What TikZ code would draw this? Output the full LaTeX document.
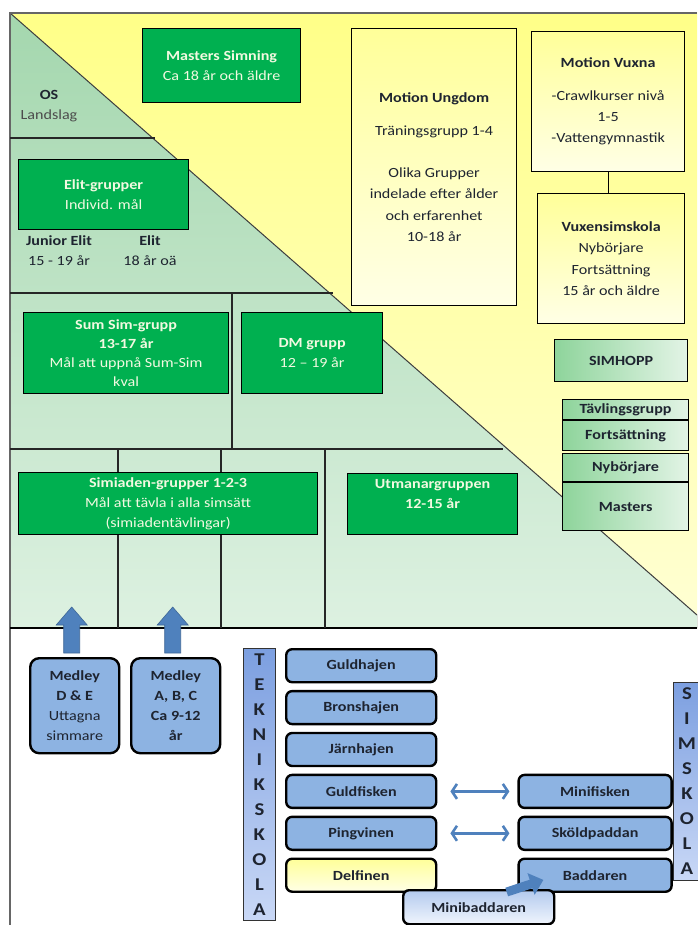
\documentclass[tikz,border=0pt]{standalone}
\usepackage{fontspec}
\setmainfont{Carlito}[FakeStretch=1.15]
\usetikzlibrary{positioning,calc,arrows.meta}

\definecolor{grpgreen}{HTML}{00B050}
\definecolor{grptext}{HTML}{F2F9E1}
\definecolor{trigreenA}{HTML}{A4D7AE}
\definecolor{trigreenB}{HTML}{DDF1E1}
\definecolor{bgyellowA}{HTML}{FFFF88}
\definecolor{bgyellowB}{HTML}{FFFFD4}
\definecolor{boxyellowA}{HTML}{FFFF99}
\definecolor{boxyellowB}{HTML}{FFFFE6}
\definecolor{hoppA}{HTML}{8ED49B}
\definecolor{hoppB}{HTML}{E3F4E6}
\definecolor{tekblue}{HTML}{8DB3E2}
\definecolor{tekbarA}{HTML}{7C9FE0}
\definecolor{tekbarB}{HTML}{C9D8F6}
\definecolor{minibadA}{HTML}{B3CAEE}
\definecolor{minibadB}{HTML}{F0F5FD}
\definecolor{arrowblue}{HTML}{4F81BD}
\definecolor{darktext}{HTML}{1E2430}

\newcommand\boxfont{\fontsize{14}{20}\selectfont}

\tikzset{
  divline/.style={line width=1.1pt, black!85},
  grpbox/.style={draw=black, line width=1.2pt, fill=grpgreen, text=grptext, align=center, inner sep=0pt, anchor=north west},
  motbox/.style={draw=black, line width=1.2pt, top color=boxyellowA, bottom color=boxyellowB, text=darktext, align=center, inner sep=0pt, anchor=north west, font=\fontsize{14}{21.5}\selectfont},
  hoppbox/.style={draw=black, line width=1.2pt, left color=hoppA, right color=hoppB, text=darktext, font=\boxfont\bfseries, inner sep=0pt, minimum width=126},
  medbox/.style={draw=black, line width=2.4pt, rounded corners=9pt, fill=tekblue, text=darktext, align=center, inner sep=0pt, anchor=north west, minimum width=89, minimum height=95},
  fiskbox/.style={draw=black, line width=2.4pt, rounded corners=6pt, fill=tekblue, text=darktext, font=\boxfont\bfseries, inner sep=0pt, minimum width=150, minimum height=33},
  letterbar/.style={draw=black!80, line width=0.8pt, top color=tekbarA, bottom color=tekbarB, text=darktext, align=center, inner sep=0pt, anchor=north west, font=\fontsize{18}{25}\selectfont\bfseries},
  blockarr/.style={fill=arrowblue, draw=arrowblue!80!black, line width=0.6pt},
  dblarrow/.style={arrowblue, line width=2.6pt, {Straight Barb[length=5pt,width=15pt]}-{Straight Barb[length=5pt,width=15pt]}, shorten <=13pt, shorten >=8pt}
}

\begin{document}
\begin{tikzpicture}[x=1pt, y=-1pt, font=\boxfont]
  \useasboundingbox (0,0) rectangle (697,925);
  \fill[white] (0,0) rectangle (697,925);

  % background: yellow area and green triangle
  \fill[top color=bgyellowA, bottom color=bgyellowB] (10,13) rectangle (697,628);
  \fill[top color=trigreenA, bottom color=trigreenB] (10,13) -- (697,615) -- (697,628) -- (10,628) -- cycle;
  \draw[line width=1pt, black!75] (10,13) -- (697,615);
  \draw[line width=1.5pt, black!60] (10,925) -- (10,13) -- (697,13);
  \draw[line width=1.2pt] (10,628) -- (697,628);

  % levels in the triangle
  \draw[divline] (10,138) -- (155,138);
  \draw[divline] (10,293) -- (333,293);
  \draw[divline] (10,449) -- (503,449);
  \draw[divline] (232,293) -- (232,448);
  \foreach \x in {118,221,325}
    \draw[divline] (\x,449) -- (\x,628);

  % green groups
  \node[grpbox, minimum width=158, minimum height=74] (masters) at (142,28)
    {\textbf{Masters Simning}\\Ca 18 år och äldre};
  \node[text=darktext, align=center] (os) at (49,106) {\textbf{OS}\\{\color{black!70}Landslag}};
  \node[grpbox, minimum width=170, minimum height=70] (elit) at (18,159)
    {\textbf{Elit-grupper}\\Individ. mål};
  \node[text=darktext, align=center] (junior) at (59,251) {\textbf{Junior Elit}\\15 - 19 år};
  \node[text=darktext, align=center] (elitage) at (150,251) {\textbf{Elit}\\18 år oä};
  \node[grpbox, minimum width=205, minimum height=81, font=\fontsize{14}{19}\selectfont] (sumsim) at (23,312)
    {\textbf{Sum Sim-grupp}\\\textbf{13-17 år}\\Mål att uppnå Sum-Sim\\kval};
  \node[grpbox, minimum width=141, minimum height=81] (dm) at (241,312)
    {\textbf{DM grupp}\\12 -- 19 år};
  \node[grpbox, minimum width=299, minimum height=62] (simiaden) at (18,472)
    {\textbf{Simiaden-grupper 1-2-3}\\Mål att tävla i alla simsätt\\(simiadentävlingar)};
  \node[grpbox, minimum width=170, minimum height=61] (utmanar) at (347,473)
    {\textbf{Utmanargruppen}\\\textbf{12-15 år}\\~};

  % motion
  \node[motbox, minimum width=165, minimum height=277] (ungdom) at (351,28)
    {\textbf{Motion Ungdom}\\[12pt]Träningsgrupp 1-4\\[20pt]Olika Grupper\\indelade efter ålder\\och erfarenhet\\10-18 år};
  \node[motbox, minimum width=153, minimum height=140, font=\fontsize{14}{21}\selectfont] (vuxna) at (531,31)
    {\textbf{Motion Vuxna}\\[12pt]-Crawlkurser nivå\\1-5\\-Vattengymnastik};
  \node[motbox, minimum width=147, minimum height=130] (vuxensim) at (537,193)
    {\textbf{Vuxensimskola}\\Nybörjare\\Fortsättning\\15 år och äldre};
  \draw[line width=1.2pt] (vuxna.south) -- (vuxna.south |- vuxensim.north);

  % simhopp
  \node[hoppbox, minimum width=133, minimum height=42, anchor=north west] (simhopp) at (554,339) {SIMHOPP};
  \node[hoppbox, minimum height=20, anchor=north west] (tavling) at (562,399) {Tävlingsgrupp};
  \node[hoppbox, minimum height=30, below=0pt of tavling] (fortsh) {Fortsättning};
  \node[hoppbox, minimum height=28, below=1.5pt of fortsh] (nybh) {Nybörjare};
  \node[hoppbox, minimum height=48, below=0pt of nybh] (mastersh) {Masters};

  % medley
  \node[medbox] (medDE) at (29,657)
    {\textbf{Medley}\\\textbf{D \& E}\\Uttagna\\simmare};
  \node[medbox, font=\boxfont\bfseries] (medABC) at (130,657)
    {Medley\\A, B, C\\Ca 9-12\\år};
  \draw[blockarr] ($(medDE.north)+(-11,-4)$) -- ++(0,-28) -- ++(-7.5,0) -- ++(15.5,-18) -- ++(15.5,18) -- ++(-7.5,0) -- ++(0,28) -- cycle;
  \draw[blockarr] ($(medABC.north)+(-11,-4)$) -- ++(0,-28) -- ++(-7.5,0) -- ++(15.5,-18) -- ++(15.5,18) -- ++(-7.5,0) -- ++(0,28) -- cycle;

  % teknikskola
  \node[letterbar, minimum width=32, minimum height=272] (teknik) at (243,648)
    {T\\E\\K\\N\\I\\K\\S\\K\\O\\L\\A};
  \node[fiskbox, anchor=north west] (guldhajen) at (285,648) {Guldhajen};
  \node[fiskbox, below=6.5pt of guldhajen] (bronshajen) {Bronshajen};
  \node[fiskbox, below=6.5pt of bronshajen] (jarnhajen) {Järnhajen};
  \node[fiskbox, below=6.5pt of jarnhajen] (guldfisken) {Guldfisken};
  \node[fiskbox, below=6.5pt of guldfisken] (pingvinen) {Pingvinen};
  \node[fiskbox, below=6.5pt of pingvinen, top color=boxyellowA, bottom color=boxyellowB] (delfinen) {Delfinen};

  % simskola
  \node[fiskbox, minimum width=153, right=80pt of guldfisken] (minifisken) {Minifisken};
  \node[fiskbox, minimum width=153, below=6.5pt of minifisken] (skoldpaddan) {Sköldpaddan};
  \node[fiskbox, minimum width=153, below=6.5pt of skoldpaddan] (baddaren) {Baddaren};
  \node[fiskbox, minimum width=151, minimum height=34, anchor=north west, top color=minibadA, bottom color=minibadB] (minibad) at (402,889) {Minibaddaren};
  \node[letterbar, minimum width=27, minimum height=198] (simskola) at (673,682)
    {S\\I\\M\\S\\K\\O\\L\\A};

  \draw[dblarrow] (guldfisken.east) -- (minifisken.west);
  \draw[dblarrow] (pingvinen.east) -- (skoldpaddan.west);
  \draw[line width=9pt, arrowblue, -{Triangle[length=13pt,width=22pt]}] ($(minibad.north)+(28,3)$) -- ($(baddaren.south west)+(26,-13)$);
\end{tikzpicture}
\end{document}
